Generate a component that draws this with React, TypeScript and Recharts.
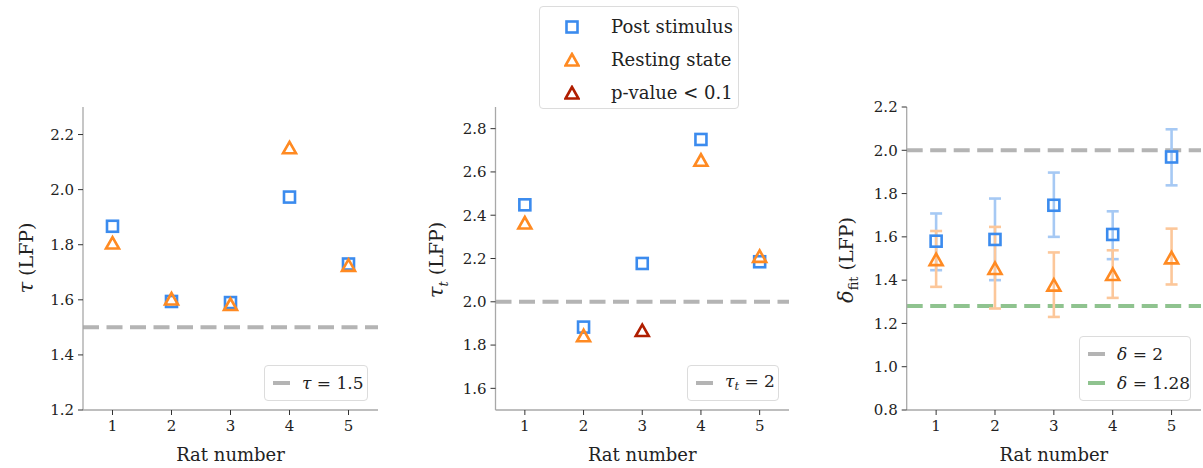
import React from "react";
import {
  ScatterChart,
  Scatter,
  XAxis,
  YAxis,
  ReferenceLine,
  ErrorBar,
} from "recharts";

const FONT = "'DejaVu Serif', serif";

const BLUE = "#3b8bee";
const ORANGE = "#ff8a22";
const DARK_RED = "#b01e00";
const GREY = "#b4b4b4";
const GREEN = "#8fc38f";
const BLUE_FADED = "#a6c9f4";
const ORANGE_FADED = "#fcc79a";

const rats = [1, 2, 3, 4, 5];
const xTicks = [1, 2, 3, 4, 5];

// panel 1: tau
const tauPost = [1.867, 1.594, 1.59, 1.973, 1.73];
const tauRest = [1.806, 1.603, 1.583, 2.152, 1.725];
const tauTicks = [1.2, 1.4, 1.6, 1.8, 2.0, 2.2];

// panel 2: tau_t
const tauTPost = [2.448, 1.883, 2.177, 2.75, 2.185];
const tauTRest = [2.364, 1.843, 1.867, 2.654, 2.21];
const tauTSignificant = [false, false, true, false, false];
const tauTTicks = [1.6, 1.8, 2.0, 2.2, 2.4, 2.6, 2.8];

// panel 3: delta_fit with error bars
const deltaPost = [1.58, 1.588, 1.746, 1.611, 1.969];
const deltaPostLow = [1.446, 1.4, 1.6, 1.497, 1.838];
const deltaPostHigh = [1.708, 1.777, 1.897, 1.718, 2.097];
const deltaRest = [1.495, 1.454, 1.377, 1.426, 1.503];
const deltaRestLow = [1.369, 1.269, 1.23, 1.318, 1.38];
const deltaRestHigh = [1.627, 1.646, 1.528, 1.538, 1.638];
const deltaTicks = [0.8, 1.0, 1.2, 1.4, 1.6, 1.8, 2.0, 2.2];

const points = (ys: number[]) => rats.map((x, i) => ({ x, y: ys[i] }));
const pointsWithErr = (ys: number[], lo: number[], hi: number[]) =>
  rats.map((x, i) => ({ x, y: ys[i], err: [ys[i] - lo[i], hi[i] - ys[i]] }));

const SquareShape = (color: string) => (props: any) => {
  const { cx, cy } = props;
  const s = 5.5;
  return (
    <rect x={cx - s} y={cy - s} width={2 * s} height={2 * s} fill="none" stroke={color} strokeWidth={2.6} />
  );
};

const TriangleShape = (color: string) => (props: any) => {
  const { cx, cy } = props;
  return (
    <polygon
      points={`${cx},${cy - 6} ${cx - 6.5},${cy + 5.5} ${cx + 6.5},${cy + 5.5}`}
      fill="none"
      stroke={color}
      strokeWidth={2.6}
      strokeLinejoin="miter"
    />
  );
};

const Sub = ({ children, italic }: { children: React.ReactNode; italic?: boolean }) => (
  <span style={{ fontSize: "0.68em", verticalAlign: "-0.3em", fontStyle: italic ? "italic" : "normal" }}>
    {children}
  </span>
);

const dash = "16 7.5";

function LegendLine({ color }: { color: string }) {
  return (
    <svg width={18} height={6} style={{ display: "block", flexShrink: 0 }}>
      <line x1={0} y1={3} x2={17} y2={3} stroke={color} strokeWidth={4} />
    </svg>
  );
}

function PanelLegend({
  left,
  top,
  width,
  items,
}: {
  left: number;
  top: number;
  width: number;
  items: { color: string; label: React.ReactNode }[];
}) {
  return (
    <div
      style={{
        position: "absolute",
        left,
        top,
        width,
        boxSizing: "border-box",
        border: "1px solid #dcdcdc",
        borderRadius: 4,
        background: "rgba(255,255,255,0.85)",
        padding: "2px 0 3px 8px",
        fontFamily: FONT,
        fontSize: 17,
        color: "#222",
      }}
    >
      {items.map((it, i) => (
        <div key={i} style={{ display: "flex", alignItems: "center", height: 29 }}>
          <LegendLine color={it.color} />
          <span style={{ marginLeft: 11, whiteSpace: "nowrap" }}>{it.label}</span>
        </div>
      ))}
    </div>
  );
}

const yLabelContent = (x: number, y: number, main: string, sub?: string, subItalic?: boolean) => () => (
  <text
    x={x}
    y={y}
    transform={`rotate(-90, ${x}, ${y})`}
    textAnchor="middle"
    fontFamily={FONT}
    fontSize={19}
    fill="#222"
  >
    <tspan fontStyle="italic" fontSize={21}>{main}</tspan>
    {sub ? (
      <tspan fontSize={13} dy={5} fontStyle={subItalic ? "italic" : "normal"}>
        {sub}
      </tspan>
    ) : null}
    <tspan dy={sub ? -5 : 0}> (LFP)</tspan>
  </text>
);

const xLabelContent = (props: any) => {
  const { viewBox } = props;
  const cx = viewBox.x + viewBox.width / 2;
  return (
    <text x={cx} y={viewBox.y + 51} textAnchor="middle" fontFamily={FONT} fontSize={18} fill="#222">
      Rat number
    </text>
  );
};

const tickStyle = { fill: "#222", fontSize: 15, fontFamily: FONT };

function Panel({
  left,
  width,
  plotLeft,
  plotRight,
  yDomain,
  yTicks,
  yLabel,
  children,
}: {
  left: number;
  width: number;
  plotLeft: number;
  plotRight: number;
  yDomain: [number, number];
  yTicks: number[];
  yLabel: any;
  children: React.ReactNode;
}) {
  return (
    <div style={{ position: "absolute", left, top: 0 }}>
      <ScatterChart
        width={width}
        height={468}
        margin={{ top: 107, bottom: 0, left: plotLeft - 60, right: width - plotRight }}
        style={{ fontFamily: FONT }}
      >
        <XAxis
          type="number"
          dataKey="x"
          domain={[0.5, 5.5]}
          ticks={xTicks}
          height={58}
          tickSize={5}
          tickMargin={5}
          tick={tickStyle}
          tickLine={{ stroke: "#333" }}
          axisLine={{ stroke: "#a8a8a8", strokeWidth: 1.3 }}
          label={xLabelContent}
        />
        <YAxis
          type="number"
          dataKey="y"
          domain={yDomain}
          ticks={yTicks}
          width={60}
          tickSize={5}
          tickMargin={4}
          tick={tickStyle}
          tickFormatter={(v: number) => v.toFixed(1)}
          tickLine={{ stroke: "#333" }}
          axisLine={{ stroke: "#a8a8a8", strokeWidth: 1.3 }}
          allowDataOverflow
          label={yLabel}
        />
        {children}
      </ScatterChart>
    </div>
  );
}

export default function App() {
  const tauTRestNormal = rats
    .map((x, i) => ({ x, y: tauTRest[i], sig: tauTSignificant[i] }))
    .filter((d) => !d.sig);
  const tauTRestSig = rats
    .map((x, i) => ({ x, y: tauTRest[i], sig: tauTSignificant[i] }))
    .filter((d) => d.sig);

  return (
    <div style={{ position: "absolute", left: 0, top: 0, width: 1203, height: 468, background: "#fff", fontFamily: FONT }}>
      <Panel
        left={0}
        width={400}
        plotLeft={83}
        plotRight={378}
        yDomain={[1.2, 2.3]}
        yTicks={tauTicks}
        yLabel={{ content: yLabelContent(33, 258, "τ") }}
      >
        <ReferenceLine y={1.5} stroke={GREY} strokeWidth={4} strokeDasharray={dash} />
        <Scatter data={points(tauPost)} shape={SquareShape(BLUE)} isAnimationActive={false} />
        <Scatter data={points(tauRest)} shape={TriangleShape(ORANGE)} isAnimationActive={false} />
      </Panel>

      <Panel
        left={400}
        width={400}
        plotLeft={95.5}
        plotRight={389}
        yDomain={[1.5, 2.9]}
        yTicks={tauTTicks}
        yLabel={{ content: yLabelContent(43, 260, "τ", "t", true) }}
      >
        <ReferenceLine y={2.0} stroke={GREY} strokeWidth={4} strokeDasharray={dash} />
        <Scatter data={points(tauTPost)} shape={SquareShape(BLUE)} isAnimationActive={false} />
        <Scatter data={tauTRestNormal} shape={TriangleShape(ORANGE)} isAnimationActive={false} />
        <Scatter data={tauTRestSig} shape={TriangleShape(DARK_RED)} isAnimationActive={false} />
      </Panel>

      <Panel
        left={800}
        width={403}
        plotLeft={106.7}
        plotRight={401}
        yDomain={[0.8, 2.2]}
        yTicks={deltaTicks}
        yLabel={{ content: yLabelContent(53, 260, "δ", "fit", false) }}
      >
        <ReferenceLine y={2.0} stroke={GREY} strokeWidth={4} strokeDasharray={dash} />
        <ReferenceLine y={1.28} stroke={GREEN} strokeWidth={4} strokeDasharray={dash} />
        <Scatter
          data={pointsWithErr(deltaPost, deltaPostLow, deltaPostHigh)}
          shape={SquareShape(BLUE)}
          isAnimationActive={false}
        >
          <ErrorBar dataKey="err" direction="y" width={6} stroke={BLUE_FADED} strokeWidth={2.6} isAnimationActive={false} />
        </Scatter>
        <Scatter
          data={pointsWithErr(deltaRest, deltaRestLow, deltaRestHigh)}
          shape={TriangleShape(ORANGE)}
          isAnimationActive={false}
        >
          <ErrorBar dataKey="err" direction="y" width={6} stroke={ORANGE_FADED} strokeWidth={2.6} isAnimationActive={false} />
        </Scatter>
      </Panel>

      {/* shared legend */}
      <div
        style={{
          position: "absolute",
          left: 539,
          top: 6,
          width: 200,
          height: 103,
          boxSizing: "border-box",
          border: "1px solid #dcdcdc",
          borderRadius: 4,
          background: "#fff",
          fontFamily: FONT,
          fontSize: 18,
          color: "#222",
          paddingTop: 3,
        }}
      >
        {[
          { shape: "square", color: BLUE, label: "Post stimulus" },
          { shape: "triangle", color: ORANGE, label: "Resting state" },
          { shape: "triangle", color: DARK_RED, label: "p-value < 0.1" },
        ].map((it, i) => (
          <div key={i} style={{ display: "flex", alignItems: "center", height: 33 }}>
            <svg width={16} height={16} style={{ marginLeft: 24, display: "block", flexShrink: 0 }}>
              {it.shape === "square" ? (
                <rect x={2.5} y={2.5} width={11} height={11} fill="none" stroke={it.color} strokeWidth={2.6} />
              ) : (
                <polygon points="8,2 1.5,13.5 14.5,13.5" fill="none" stroke={it.color} strokeWidth={2.6} />
              )}
            </svg>
            <span style={{ marginLeft: 31, whiteSpace: "nowrap" }}>{it.label}</span>
          </div>
        ))}
      </div>

      <PanelLegend
        left={264}
        top={365}
        width={104}
        items={[{ color: GREY, label: <><i>τ</i> = 1.5</> }]}
      />
      <PanelLegend
        left={687}
        top={365}
        width={92}
        items={[{ color: GREY, label: <><i>τ</i><Sub italic>t</Sub> = 2</> }]}
      />
      <PanelLegend
        left={1079}
        top={336}
        width={112}
        items={[
          { color: GREY, label: <><i>δ</i> = 2</> },
          { color: GREEN, label: <><i>δ</i> = 1.28</> },
        ]}
      />
    </div>
  );
}
